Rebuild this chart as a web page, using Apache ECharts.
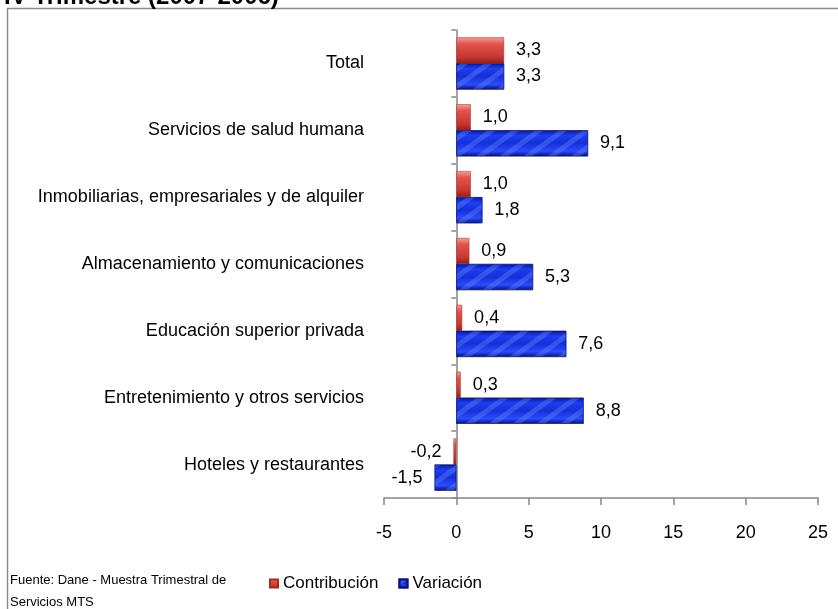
<!DOCTYPE html>
<html>
<head>
<meta charset="utf-8">
<script src="https://cdn.jsdelivr.net/npm/echarts@6/dist/echarts.min.js"></script>
<style>
  html, body { margin: 0; padding: 0; background: #fff; }
  #chart { width: 838px; height: 609px; }
</style>
</head>
<body>
<div id="chart"></div>
<script>
// Data
const categories = [
  'Total',
  'Servicios de salud humana',
  'Inmobiliarias, empresariales y de alquiler',
  'Almacenamiento y comunicaciones',
  'Educación superior privada',
  'Entretenimiento y otros servicios',
  'Hoteles y restaurantes'
]
const contribucion = [3.3, 1.0, 1.0, 0.9, 0.4, 0.3, -0.2]
const variacion = [3.3, 9.1, 1.8, 5.3, 7.6, 8.8, -1.5]
const xTicks = { min: -5, max: 25, interval: 5 }

const fmt = v => v.toFixed(1).replace('.', ',')
const FONT = 'Liberation Sans, Arial, sans-serif'

// put labels on the outer side of each bar
const withLabels = values => values.map(v => ({
  value: v,
  label: { position: v < 0 ? 'left' : 'right' }
}))

const redFill = new echarts.graphic.LinearGradient(0, 0, 0, 1, [
  { offset: 0, color: '#f4a09a' },
  { offset: 0.25, color: '#e0544c' },
  { offset: 0.75, color: '#c8372f' },
  { offset: 1, color: '#8e1f1a' }
])
const blueFill = new echarts.graphic.LinearGradient(0, 0, 0, 1, [
  { offset: 0, color: '#0b1890' },
  { offset: 0.2, color: '#1f3df2' },
  { offset: 0.5, color: '#1430d8' },
  { offset: 0.8, color: '#2a4cff' },
  { offset: 1, color: '#081170' }
])

const chart = echarts.init(document.getElementById('chart'))

const options = {
  animation: false,
  textStyle: { fontFamily: FONT },
  grid: { left: 384, right: 20, top: 30, bottom: 111, containLabel: false, outerBoundsMode: 'none' },
  graphic: [
    {
      type: 'rect',
      shape: { x: 7.5, y: 8.5, width: 1000, height: 1000 },
      style: { fill: 'none', stroke: '#8c8c8c', lineWidth: 1.5 },
      silent: true
    },
    {
      type: 'text',
      x: 4, y: -3,
      style: {
        text: 'IV Trimestre (2007-2006)',
        font: 'bold 24px ' + FONT,
        fill: '#000',
        verticalAlign: 'middle'
      }
    },
    {
      type: 'text',
      x: 10, y: 591,
      style: {
        text: 'Fuente: Dane - Muestra Trimestral de\nServicios MTS',
        font: '13px ' + FONT,
        fill: '#000',
        lineHeight: 22,
        verticalAlign: 'middle'
      }
    }
  ],
  legend: {
    left: 264,
    top: 570,
    itemWidth: 8,
    itemHeight: 8,
    itemGap: 20,
    icon: 'rect',
    textStyle: { fontSize: 17, color: '#000', fontFamily: FONT },
    data: ['Contribución', 'Variación']
  },
  xAxis: {
    type: 'value',
    min: xTicks.min,
    max: xTicks.max,
    interval: xTicks.interval,
    axisLine: { show: true, lineStyle: { color: '#868686', width: 1.5 } },
    axisTick: { show: true, length: 7, lineStyle: { color: '#868686', width: 1.5 } },
    splitLine: { show: false },
    axisLabel: { fontSize: 18, color: '#000', margin: 26, fontFamily: FONT }
  },
  yAxis: {
    type: 'category',
    inverse: true,
    data: categories,
    axisLine: { show: true, onZero: true, lineStyle: { color: '#868686', width: 1.5 } },
    axisTick: { show: true, length: 5, lineStyle: { color: '#868686', width: 1.5 } },
    axisLabel: { fontSize: 18, color: '#000', margin: 20, fontFamily: FONT }
  },
  series: [
    {
      name: 'Contribución',
      type: 'bar',
      data: withLabels(contribucion),
      barGap: '0%',
      barCategoryGap: '22%',
      itemStyle: { color: redFill, borderColor: '#a52a22', borderWidth: 0.5 },
      label: { show: true, distance: 12, fontSize: 18, color: '#000', formatter: p => fmt(p.value) }
    },
    {
      name: 'Variación',
      type: 'bar',
      data: withLabels(variacion),
      barGap: '0%',
      barCategoryGap: '22%',
      itemStyle: {
        color: blueFill,
        borderColor: '#0a1478',
        borderWidth: 0.5,
        decal: {
          symbol: 'rect',
          dashArrayX: [1, 0],
          dashArrayY: [5, 9],
          rotation: -Math.PI / 5,
          color: 'rgba(110, 140, 255, 0.35)'
        }
      },
      label: { show: true, distance: 12, fontSize: 18, color: '#000', formatter: p => fmt(p.value) }
    }
  ]
}
chart.setOption(options)
</script>
</body>
</html>
